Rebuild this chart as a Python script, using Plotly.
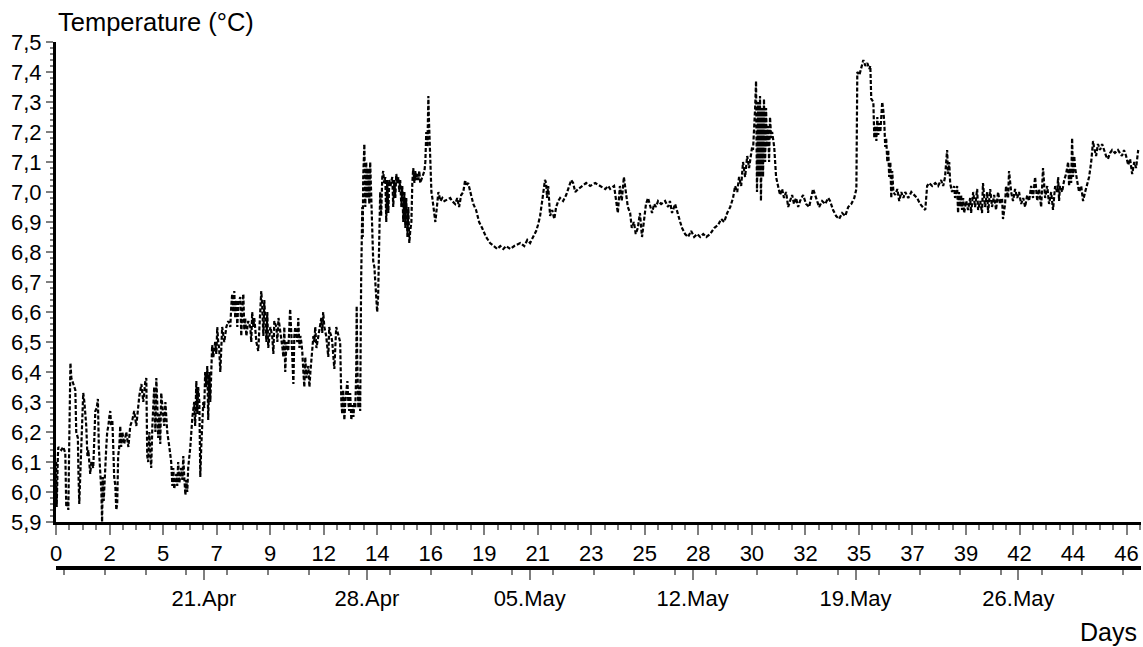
import plotly.graph_objects as go
import pandas as pd

days = [
    0.01, 0.03, 0.08, 0.10, 0.23, 0.31, 0.40, 0.44, 0.49, 0.53,
    0.57, 0.62, 0.66, 0.74, 0.83, 0.87, 0.94, 0.96, 1.00, 1.04,
    1.09, 1.13, 1.17, 1.22, 1.30, 1.35, 1.39, 1.47, 1.52, 1.60,
    1.65, 1.69, 1.75, 1.80, 1.84, 1.90, 1.95, 1.98, 2.01, 2.05,
    2.12, 2.16, 2.20, 2.25, 2.29, 2.33, 2.37, 2.42, 2.46, 2.50,
    2.55, 2.59, 2.63, 2.67, 2.72, 2.76, 2.80, 2.85, 2.93, 3.02,
    3.11, 3.19, 3.28, 3.36, 3.45, 3.49, 3.58, 3.67, 3.75, 3.84,
    3.88, 3.92, 3.96, 4.01, 4.05, 4.09, 4.14, 4.18, 4.22, 4.27,
    4.31, 4.35, 4.39, 4.44, 4.48, 4.52, 4.57, 4.65, 4.70, 4.78,
    4.87, 4.95, 5.00, 5.04, 5.08, 5.17, 5.21, 5.25, 5.30, 5.38,
    5.43, 5.47, 5.51, 5.56, 5.60, 5.64, 5.68, 5.77, 5.86, 5.94,
    5.98, 6.03, 6.07, 6.11, 6.16, 6.20, 6.24, 6.28, 6.33, 6.37,
    6.41, 6.46, 6.50, 6.54, 6.59, 6.63, 6.67, 6.71, 6.76, 6.84,
    6.89, 6.93, 6.97, 7.01, 7.06, 7.10, 7.14, 7.23, 7.32, 7.40,
    7.49, 7.53, 7.57, 7.62, 7.66, 7.70, 7.75, 7.79, 7.83, 7.92,
    7.96, 8.00, 8.05, 8.09, 8.13, 8.18, 8.26, 8.35, 8.39, 8.43,
    8.48, 8.52, 8.61, 8.69, 8.73, 8.82, 8.86, 8.91, 8.95, 8.99,
    9.04, 9.08, 9.12, 9.21, 9.29, 9.34, 9.38, 9.47, 9.51, 9.56,
    9.64, 9.73, 9.77, 9.81, 9.85, 9.90, 9.98, 10.06, 10.11, 10.15,
    10.20, 10.24, 10.28, 10.37, 10.41, 10.46, 10.50, 10.54, 10.58, 10.63,
    10.67, 10.71, 10.76, 10.84, 10.89, 10.93, 11.01, 11.06, 11.10, 11.14,
    11.19, 11.27, 11.36, 11.40, 11.44, 11.48, 11.53, 11.61, 11.70, 11.74,
    11.78, 11.83, 11.87, 11.91, 11.96, 12.04, 12.13, 12.21, 12.26, 12.30,
    12.34, 12.39, 12.43, 12.47, 12.52, 12.56, 12.60, 12.64, 12.69, 12.73,
    12.78, 12.82, 12.86, 12.90, 12.92, 12.94, 12.99, 13.03, 13.07, 13.11,
    13.16, 13.18, 13.20, 13.25, 13.29, 13.33, 13.37, 13.42, 13.46, 13.50,
    13.55, 13.59, 13.63, 13.68, 13.72, 13.76, 13.80, 13.84, 13.89, 13.93,
    13.97, 14.02, 14.06, 14.10, 14.15, 14.19, 14.23, 14.28, 14.32, 14.37,
    14.45, 14.49, 14.54, 14.58, 14.62, 14.67, 14.71, 14.75, 14.79, 14.84,
    14.88, 14.92, 14.97, 15.01, 15.05, 15.10, 15.14, 15.18, 15.22, 15.27,
    15.31, 15.35, 15.40, 15.44, 15.48, 15.53, 15.57, 15.61, 15.65, 15.74,
    15.83, 15.87, 15.91, 15.96, 16.00, 16.02, 16.04, 16.09, 16.13, 16.17,
    16.22, 16.26, 16.30, 16.34, 16.39, 16.43, 16.52, 16.60, 16.69, 16.94,
    17.02, 17.15, 17.24, 17.32, 17.41, 17.50, 17.58, 17.62, 17.71, 17.80,
    17.93, 18.05, 18.18, 18.31, 18.48, 18.65, 18.83, 18.96, 19.09, 19.22,
    19.34, 19.52, 19.69, 19.95, 20.12, 20.25, 20.37, 20.50, 20.63, 20.71,
    20.80, 20.89, 20.97, 21.01, 21.06, 21.10, 21.15, 21.19, 21.23, 21.32,
    21.41, 21.49, 21.58, 21.66, 21.79, 21.92, 22.05, 22.14, 22.22, 22.31,
    22.44, 22.61, 22.78, 22.95, 23.17, 23.38, 23.60, 23.73, 23.81, 23.98,
    24.06, 24.14, 24.23, 24.31, 24.40, 24.48, 24.57, 24.67, 24.74, 24.83,
    24.91, 25.00, 25.09, 25.18, 25.26, 25.35, 25.44, 25.53, 25.61, 25.70,
    25.78, 25.87, 26.00, 26.17, 26.30, 26.38, 26.47, 26.60, 26.73, 26.82,
    26.90, 27.03, 27.16, 27.29, 27.42, 27.55, 27.68, 27.81, 27.94, 28.11,
    28.28, 28.45, 28.58, 28.71, 28.84, 28.97, 29.09, 29.18, 29.27, 29.35,
    29.44, 29.52, 29.61, 29.70, 29.78, 29.87, 29.91, 29.95, 30.00, 30.04,
    30.08, 30.12, 30.17, 30.21, 30.25, 30.29, 30.34, 30.38, 30.42, 30.47,
    30.51, 30.55, 30.60, 30.64, 30.68, 30.73, 30.77, 30.86, 30.94, 31.03,
    31.11, 31.20, 31.28, 31.37, 31.46, 31.54, 31.63, 31.71, 31.80, 31.89,
    31.97, 32.10, 32.23, 32.36, 32.45, 32.53, 32.62, 32.71, 32.79, 32.92,
    33.05, 33.18, 33.26, 33.39, 33.52, 33.65, 33.78, 33.91, 34.04, 34.17,
    34.30, 34.39, 34.43, 34.52, 34.60, 34.69, 34.78, 34.86, 34.95, 34.99,
    35.03, 35.12, 35.16, 35.20, 35.25, 35.29, 35.33, 35.38, 35.42, 35.46,
    35.50, 35.55, 35.59, 35.63, 35.67, 35.72, 35.76, 35.80, 35.85, 35.89,
    35.93, 35.98, 36.06, 36.15, 36.23, 36.32, 36.41, 36.49, 36.62, 36.75,
    36.88, 37.00, 37.13, 37.26, 37.35, 37.43, 37.52, 37.65, 37.78, 37.90,
    38.03, 38.12, 38.20, 38.25, 38.29, 38.33, 38.38, 38.42, 38.50, 38.59,
    38.63, 38.72, 38.76, 38.80, 38.85, 38.89, 38.93, 38.98, 39.02, 39.11,
    39.19, 39.28, 39.32, 39.41, 39.49, 39.58, 39.62, 39.71, 39.79, 39.83,
    39.92, 40.01, 40.05, 40.14, 40.22, 40.31, 40.39, 40.48, 40.56, 40.65,
    40.69, 40.78, 40.82, 40.91, 40.95, 41.04, 41.12, 41.21, 41.30, 41.38,
    41.47, 41.56, 41.64, 41.73, 41.81, 41.90, 41.98, 42.07, 42.16, 42.24,
    42.33, 42.41, 42.50, 42.59, 42.67, 42.76, 42.84, 42.93, 43.02, 43.06,
    43.10, 43.14, 43.23, 43.32, 43.40, 43.49, 43.53, 43.57, 43.62, 43.66,
    43.70, 43.75, 43.79, 43.87, 43.96, 44.05, 44.13, 44.22, 44.30, 44.39,
    44.48, 44.56, 44.60, 44.69, 44.77, 44.86, 44.95, 45.03, 45.12, 45.20,
    45.29, 45.38, 45.50, 45.63, 45.72, 45.80, 45.89, 45.98, 46.07, 46.15,
    46.24, 46.33, 46.41, 46.50,
]

temp_c = [
    6.10, 5.95, 6.12, 6.15, 6.14, 6.15, 6.13, 5.95, 5.97, 5.94,
    6.17, 6.43, 6.38, 6.36, 6.34, 6.20, 6.18, 6.08, 5.96, 6.05,
    6.15, 6.20, 6.33, 6.30, 6.22, 6.12, 6.14, 6.06, 6.10, 6.08,
    6.20, 6.27, 6.28, 6.31, 6.15, 6.08, 6.00, 5.90, 6.05, 5.97,
    6.12, 6.15, 6.20, 6.22, 6.25, 6.27, 6.22, 6.24, 6.15, 6.05,
    6.02, 5.94, 5.96, 6.12, 6.15, 6.22, 6.15, 6.20, 6.16, 6.20,
    6.15, 6.22, 6.24, 6.27, 6.22, 6.26, 6.32, 6.36, 6.30, 6.37,
    6.38, 6.12, 6.10, 6.20, 6.15, 6.08, 6.22, 6.30, 6.35, 6.20,
    6.38, 6.30, 6.18, 6.26, 6.16, 6.33, 6.28, 6.22, 6.30, 6.20,
    6.15, 6.10, 6.02, 6.08, 6.01, 6.06, 6.02, 6.10, 6.03, 6.08,
    6.04, 6.12, 6.05, 5.99, 6.04, 6.00, 6.08, 6.15, 6.25, 6.30,
    6.22, 6.37, 6.26, 6.35, 6.30, 6.05, 6.15, 6.20, 6.30, 6.28,
    6.40, 6.35, 6.42, 6.24, 6.40, 6.30, 6.45, 6.49, 6.45, 6.50,
    6.46, 6.55, 6.50, 6.48, 6.40, 6.52, 6.55, 6.50, 6.55, 6.57,
    6.55, 6.62, 6.66, 6.60, 6.67, 6.58, 6.64, 6.55, 6.63, 6.65,
    6.52, 6.60, 6.66, 6.54, 6.58, 6.52, 6.57, 6.55, 6.50, 6.60,
    6.55, 6.58, 6.50, 6.47, 6.55, 6.67, 6.62, 6.52, 6.64, 6.55,
    6.50, 6.60, 6.48, 6.55, 6.52, 6.46, 6.57, 6.55, 6.50, 6.58,
    6.54, 6.48, 6.45, 6.55, 6.40, 6.50, 6.47, 6.61, 6.53, 6.45,
    6.36, 6.52, 6.55, 6.50, 6.58, 6.48, 6.52, 6.50, 6.47, 6.40,
    6.35, 6.45, 6.38, 6.42, 6.35, 6.40, 6.46, 6.52, 6.50, 6.55,
    6.48, 6.52, 6.55, 6.58, 6.53, 6.60, 6.55, 6.52, 6.45, 6.55,
    6.53, 6.52, 6.50, 6.45, 6.41, 6.55, 6.52, 6.50, 6.30, 6.26,
    6.34, 6.24, 6.30, 6.33, 6.37, 6.30, 6.27, 6.33, 6.24, 6.29,
    6.25, 6.30, 6.28, 6.40, 6.62, 6.45, 6.28, 6.35, 6.27, 6.70,
    6.95, 6.85, 7.05, 7.16, 6.95, 7.10, 6.98, 7.08, 6.96, 7.10,
    6.94, 6.88, 6.77, 6.75, 6.70, 6.68, 6.60, 6.65, 6.85, 7.00,
    6.92, 7.05, 7.07, 7.03, 7.05, 6.90, 7.04, 6.93, 7.04, 7.02,
    7.05, 6.95, 7.04, 6.98, 7.06, 7.03, 7.05, 7.00, 7.04, 6.95,
    7.02, 6.90, 7.00, 6.88, 6.98, 6.85, 6.95, 6.83, 6.87, 6.90,
    7.03, 7.08, 7.03, 7.07, 7.04, 7.06, 7.04, 7.07, 7.03, 7.05,
    7.07, 7.10, 7.20, 7.15, 7.32, 7.25, 7.20, 7.10, 7.00, 6.98,
    6.95, 6.92, 6.90, 6.93, 6.99, 7.00, 6.97, 6.98, 6.97, 6.98,
    6.97, 6.96, 6.98, 6.95, 6.99, 7.00, 7.04, 7.02, 7.03, 7.00,
    6.96, 6.94, 6.90, 6.88, 6.85, 6.83, 6.82, 6.81, 6.82, 6.81,
    6.82, 6.81, 6.82, 6.83, 6.82, 6.84, 6.83, 6.85, 6.87, 6.89,
    6.92, 6.97, 7.02, 7.04, 7.03, 6.98, 7.02, 6.95, 6.92, 6.94,
    6.91, 6.95, 6.97, 6.98, 6.97, 6.99, 7.02, 7.04, 7.03, 7.00,
    7.01, 7.02, 7.03, 7.02, 7.03, 7.02, 7.01, 7.02, 7.01, 7.02,
    6.98, 6.93, 7.02, 6.97, 7.05, 7.00, 6.95, 6.93, 6.88, 6.90,
    6.86, 6.88, 6.93, 6.85, 6.90, 6.96, 6.98, 6.95, 6.93, 6.96,
    6.95, 6.97, 6.96, 6.97, 6.95, 6.97, 6.93, 6.96, 6.92, 6.90,
    6.88, 6.86, 6.85, 6.87, 6.85, 6.86, 6.85, 6.86, 6.85, 6.86,
    6.88, 6.89, 6.91, 6.90, 6.93, 6.95, 6.98, 7.02, 7.00, 7.05,
    7.02, 7.10, 7.05, 7.12, 7.08, 7.13, 7.15, 7.14, 7.20, 7.28,
    7.37, 7.00, 7.30, 7.05, 7.32, 6.97, 7.28, 7.05, 7.31, 7.10,
    7.28, 7.15, 7.22, 7.10, 7.25, 7.18, 7.20, 7.15, 7.05, 7.02,
    6.99, 7.01, 6.98, 7.00, 6.95, 6.97, 6.99, 6.96, 6.98, 6.95,
    6.97, 6.99, 6.96, 6.95, 6.98, 7.01, 6.99, 6.97, 6.95, 6.97,
    6.96, 6.98, 6.97, 6.94, 6.92, 6.91, 6.93, 6.92, 6.95, 6.96,
    6.98, 7.01, 7.40, 7.39, 7.41, 7.44, 7.42, 7.43, 7.41, 7.42,
    7.31, 7.30, 7.18, 7.22, 7.17, 7.25, 7.19, 7.23, 7.20, 7.28,
    7.30, 7.27, 7.23, 7.15, 7.18, 7.10, 7.14, 7.05, 7.10, 6.98,
    7.07, 7.00, 6.99, 7.01, 6.97, 7.00, 6.98, 7.00, 6.98, 7.00,
    6.99, 6.98, 6.96, 6.95, 6.94, 7.02, 7.03, 7.02, 7.03, 7.02,
    7.04, 7.02, 7.05, 7.10, 7.14, 7.06, 7.10, 7.03, 7.00, 7.02,
    6.98, 7.02, 6.93, 7.00, 6.95, 6.99, 6.94, 6.98, 6.93, 6.97,
    6.94, 6.98, 6.93, 7.00, 6.95, 7.01, 6.94, 6.97, 6.93, 7.03,
    6.95, 7.00, 6.93, 7.01, 6.95, 6.99, 6.94, 7.00, 6.96, 6.98,
    6.91, 6.96, 7.02, 6.98, 7.07, 7.00, 6.97, 7.01, 6.98, 7.00,
    6.96, 6.98, 6.95, 6.99, 6.97, 7.02, 6.98, 7.05, 6.97, 7.01,
    6.95, 7.08, 6.98, 7.02, 6.96, 7.00, 6.94, 7.02, 7.00, 7.05,
    6.97, 7.02, 7.00, 7.04, 7.06, 7.10, 7.02, 7.08, 7.03, 7.18,
    7.05, 7.12, 7.08, 7.04, 7.00, 7.02, 6.97, 7.00, 7.02, 7.05,
    7.10, 7.17, 7.15, 7.12, 7.16, 7.14, 7.16, 7.14, 7.12, 7.11,
    7.13, 7.14, 7.13, 7.14, 7.13, 7.12, 7.14, 7.12, 7.09, 7.11,
    7.06, 7.10, 7.08, 7.14,
]

# axis labelling
day_tick_step = 2.3
day_tick_labels = ["0", "2", "5", "7", "9", "12", "14", "16", "19", "21", "23",
                   "25", "28", "30", "32", "35", "37", "39", "42", "44", "46"]
day_axis_max = 46.62
start_time = "2023-04-14 15:30"      # calendar moment of day 0
first_date_tick = "2023-04-21"
y_title = "Temperature (°C)"
x_title = "Days"

FONT = "Liberation Sans, Arial, sans-serif"
GRAY = "#7f7f7f"

t0 = pd.Timestamp(start_time)
date_range = [t0.isoformat(), (t0 + pd.Timedelta(days=day_axis_max)).isoformat()]
day_tick_vals = [i * day_tick_step for i in range(len(day_tick_labels))]

fig = go.Figure()
fig.add_trace(go.Scatter(
    x=days, y=temp_c, mode="lines",
    line=dict(color="black", width=2.2, dash="4px,2px"),
    showlegend=False, hoverinfo="skip",
))
# empty helper trace so the calendar axis is drawn
fig.add_trace(go.Scatter(
    x=date_range, y=[None, None], xaxis="x2", yaxis="y", mode="lines",
    showlegend=False, hoverinfo="skip",
))

plot_top, plot_bottom = 42, 568
day_axis_y = 522
y_dom0 = (plot_bottom - day_axis_y) / (plot_bottom - plot_top)
ph = plot_bottom - plot_top

fig.update_layout(
    width=1143, height=647,
    margin=dict(l=56, r=2, t=plot_top, b=647 - plot_bottom, pad=0),
    paper_bgcolor="white", plot_bgcolor="white",
    font=dict(family=FONT, size=22, color="black"),
    separators=",.",
    xaxis=dict(
        range=[0, day_axis_max], tickmode="array", tickvals=day_tick_vals,
        ticktext=day_tick_labels, ticks="outside", ticklen=10, tickwidth=2,
        tickcolor=GRAY, showline=True, linewidth=3, linecolor="black",
        showgrid=False, zeroline=False, anchor="y",
        tickfont=dict(family=FONT, size=22, color="black"),
        minor=dict(tickmode="linear", tick0=0, dtick=day_tick_step / 4,
                   ticks="outside", ticklen=5, tickwidth=2, tickcolor=GRAY),
    ),
    xaxis2=dict(
        overlaying="x", anchor="free", position=0, side="bottom",
        type="date", range=date_range, tick0=first_date_tick,
        dtick=7 * 86400000, tickformat="%d.%b", ticks="outside", ticklen=10,
        tickwidth=2, tickcolor=GRAY, showline=True, linewidth=4,
        linecolor="black", showgrid=False, zeroline=False,
        tickfont=dict(family=FONT, size=22, color="black"),
        minor=dict(dtick=1.75 * 86400000, ticks="outside", ticklen=5,
                   tickwidth=2, tickcolor=GRAY),
    ),
    yaxis=dict(
        domain=[y_dom0, 1], range=[5.9, 7.5], tickmode="linear", tick0=5.9,
        dtick=0.1, tickformat=".1f", ticks="outside", ticklen=7, tickwidth=2,
        tickcolor=GRAY, showline=True, linewidth=3, linecolor="black",
        showgrid=False, zeroline=False,
        tickfont=dict(family=FONT, size=22, color="black"),
        minor=dict(dtick=0.02, ticks="outside", ticklen=3, tickwidth=2,
                   tickcolor=GRAY),
    ),
    annotations=[
        dict(text=y_title, xref="paper", yref="paper", x=0, y=1 + 20 / ph,
             xanchor="left", yanchor="middle", showarrow=False, xshift=0,
             font=dict(family=FONT, size=25.5, color="black")),
        dict(text=x_title, xref="paper", yref="paper", x=1, y=-(632 - 568) / ph,
             xanchor="right", yanchor="middle", showarrow=False, xshift=-2,
             font=dict(family=FONT, size=25, color="black")),
    ],
)

fig.write_html("out.html")
